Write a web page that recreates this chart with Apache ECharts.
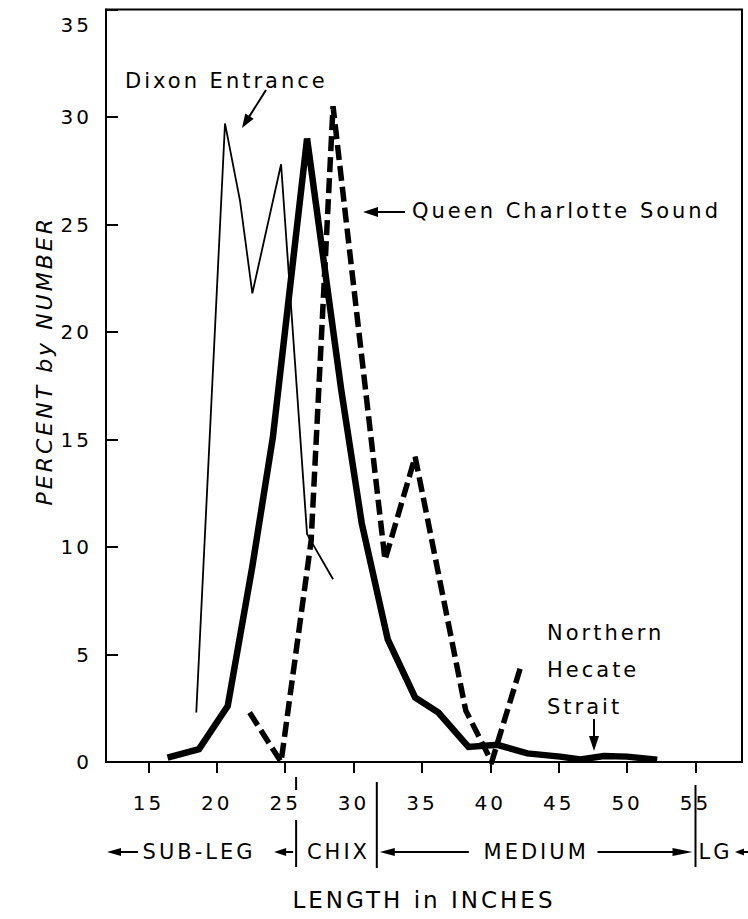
<!DOCTYPE html>
<html>
<head>
<meta charset="utf-8">
<script src="https://cdn.jsdelivr.net/npm/echarts@6/dist/echarts.min.js"></script>
<style>
  html, body { margin: 0; padding: 0; background: #fff; }
  #main { width: 748px; height: 919px; }
  #main text { letter-spacing: 3px; }
</style>
</head>
<body>
<div id="main"></div>
<script>
// 长度 (inches) / 百分比 —— 三个海区
var dixonX = [18.5, 20.6, 21.7, 22.6, 24.7, 26.6, 28.5];
var dixonY = [2.3, 29.7, 26.1, 21.8, 27.8, 10.6, 8.5];

var hecateX = [16.4, 18.7, 20.8, 22.6, 24.1, 26.6, 29.1, 30.6, 32.5, 34.5, 36.2, 38.4, 40.5, 42.7, 45.1, 46.6, 48.3, 50.0, 52.2];
var hecateY = [0.2, 0.6, 2.6, 9.1, 15.1, 29.0, 17.3, 11.1, 5.7, 3.0, 2.3, 0.7, 0.8, 0.4, 0.25, 0.12, 0.28, 0.25, 0.1];

var queenX = [22.4, 24.7, 26.9, 28.5, 32.3, 34.5, 38.2, 40.1, 42.3];
var queenY = [2.3, 0.0, 10.3, 30.5, 9.4, 14.2, 2.4, 0.0, 4.6];

// 刻度
var xTicks = [15, 20, 25, 30, 35, 40, 45, 50, 55];
var yTicks = [0, 5, 10, 15, 20, 25, 30, 35];

// 尺寸分级
var classBounds = [25.8, 31.7, 55];
var classNames = ['SUB-LEG', 'CHIX', 'MEDIUM', 'LG'];

var FONT = 'DejaVu Sans';

function pairs(xs, ys) {
  return xs.map(function (x, i) { return [x, ys[i]]; });
}

var chart = echarts.init(document.getElementById('main'), null, { renderer: 'svg' });

chart.setOption({
  animation: false,
  backgroundColor: '#fff',
  grid: {
    left: 106, right: 6, top: 9.5, bottom: 157,
    show: true, borderColor: '#000', borderWidth: 2
  },
  xAxis: {
    type: 'value',
    min: 11.9,
    max: 58.4,
    name: 'LENGTH in INCHES',
    nameLocation: 'middle',
    nameGap: 126,
    nameTextStyle: { fontFamily: FONT, fontSize: 23, color: '#000' },
    axisLine: { lineStyle: { color: '#000', width: 2 } },
    axisTick: { inside: false, length: 11, customValues: xTicks, lineStyle: { color: '#000', width: 2 } },
    axisLabel: {
      margin: 31,
      customValues: xTicks,
      fontFamily: FONT, fontSize: 20, color: '#000'
    },
    splitLine: { show: false }
  },
  yAxis: {
    type: 'value',
    min: 0,
    max: 35,
    interval: 5,
    name: 'PERCENT by NUMBER',
    nameLocation: 'middle',
    nameGap: 46,
    nameTextStyle: { fontFamily: FONT, fontSize: 22, fontStyle: 'italic', color: '#000', padding: [0, 0, 0, 50] },
    axisLine: { lineStyle: { color: '#000', width: 2 } },
    axisTick: { inside: true, length: 12, lineStyle: { color: '#000', width: 2 } },
    axisLabel: {
      margin: 14,
      fontFamily: FONT, fontSize: 20, color: '#000',
      formatter: function (v) {
        if (yTicks.indexOf(v) < 0) return '';
        return v === 35 ? '{top|35}' : String(v);
      },
      rich: { top: { fontFamily: FONT, fontSize: 20, color: '#000', padding: [30, 0, 0, 0] } }
    },
    splitLine: { show: false }
  },
  series: [
    {
      name: 'Dixon Entrance',
      type: 'line',
      symbol: 'none',
      data: pairs(dixonX, dixonY),
      lineStyle: { color: '#000', width: 1.8, join: 'miter' },
      z: 2
    },
    {
      name: 'Northern Hecate Strait',
      type: 'line',
      symbol: 'none',
      data: pairs(hecateX, hecateY),
      lineStyle: { color: '#000', width: 6.5, join: 'miter', miterLimit: 3 },
      z: 3
    },
    {
      name: 'Queen Charlotte Sound',
      type: 'line',
      symbol: 'none',
      data: pairs(queenX, queenY),
      lineStyle: { color: '#000', width: 5.5, type: [15, 6], cap: 'butt', join: 'miter', miterLimit: 3 },
      z: 4
    }
  ]
});

// 箭头
function arrow(x1, y1, x2, y2, len, half, w) {
  var dx = x2 - x1, dy = y2 - y1, d = Math.sqrt(dx * dx + dy * dy);
  var ux = dx / d, uy = dy / d;
  var bx = x2 - ux * len, by = y2 - uy * len;
  return [
    { type: 'line', shape: { x1: x1, y1: y1, x2: bx + ux * 2, y2: by + uy * 2 }, style: { stroke: '#000', lineWidth: w } },
    { type: 'polygon', shape: { points: [[x2, y2], [bx - uy * half, by + ux * half], [bx + uy * half, by - ux * half]] }, style: { fill: '#000' } }
  ];
}

function vline(x, y1, y2) {
  return { type: 'line', shape: { x1: x, y1: y1, x2: x, y2: y2 }, style: { stroke: '#000', lineWidth: 2 } };
}

function label(text, x, y, align, size) {
  return {
    type: 'text', x: x, y: y,
    style: { text: text, fill: '#000', font: (size || 21) + 'px "' + FONT + '"', align: align || 'center', verticalAlign: 'middle' }
  };
}

function xPix(v) { return chart.convertToPixel({ xAxisIndex: 0 }, v); }

var d1 = xPix(classBounds[0]), d2 = xPix(classBounds[1]), d3 = xPix(classBounds[2]);
var rowY = 852;
var g = [];

// 分级分隔线
g.push(vline(d1, 777, 790), vline(d1, 820, 867), vline(d2, 782, 868), vline(d3, 785, 867));

// 分级文字
g.push(label(classNames[0], (xPix(11.9) + d1) / 2 - 2, rowY, 'center', 21));
g.push(label(classNames[1], (d1 + d2) / 2 + 2, rowY, 'center', 21));
g.push(label(classNames[2], (d2 + d3) / 2, rowY, 'center', 21));
g.push(label(classNames[3], d3 + 20, rowY, 'center', 21));

// 分级箭头
g = g.concat(
  arrow(138, rowY, 107, rowY, 14, 4, 2),
  arrow(d1 - 3, rowY, d1 - 22, rowY, 12, 4, 2),
  arrow(d2 + 92, rowY, d2 + 3, rowY, 15, 4, 2),
  arrow(d3 - 98, rowY, d3 - 3, rowY, 20, 4, 2),
  arrow(748, rowY, 735, rowY, 9, 3.5, 2)
);

// 曲线注释
g.push(label('Dixon Entrance', 125, 81, 'left', 21));
g = g.concat(arrow(266, 90, 242, 128, 14, 5, 2));
g.push(label('Queen Charlotte Sound', 412, 211, 'left', 21));
g = g.concat(arrow(405, 212, 363, 212, 15, 5, 2));
g.push(label('Northern', 547, 633, 'left', 21));
g.push(label('Hecate', 547, 670, 'left', 21));
g.push(label('Strait', 547, 707, 'left', 21));
g = g.concat(arrow(594, 719, 594, 751, 15, 5, 2));

chart.setOption({ graphic: g });
</script>
</body>
</html>
